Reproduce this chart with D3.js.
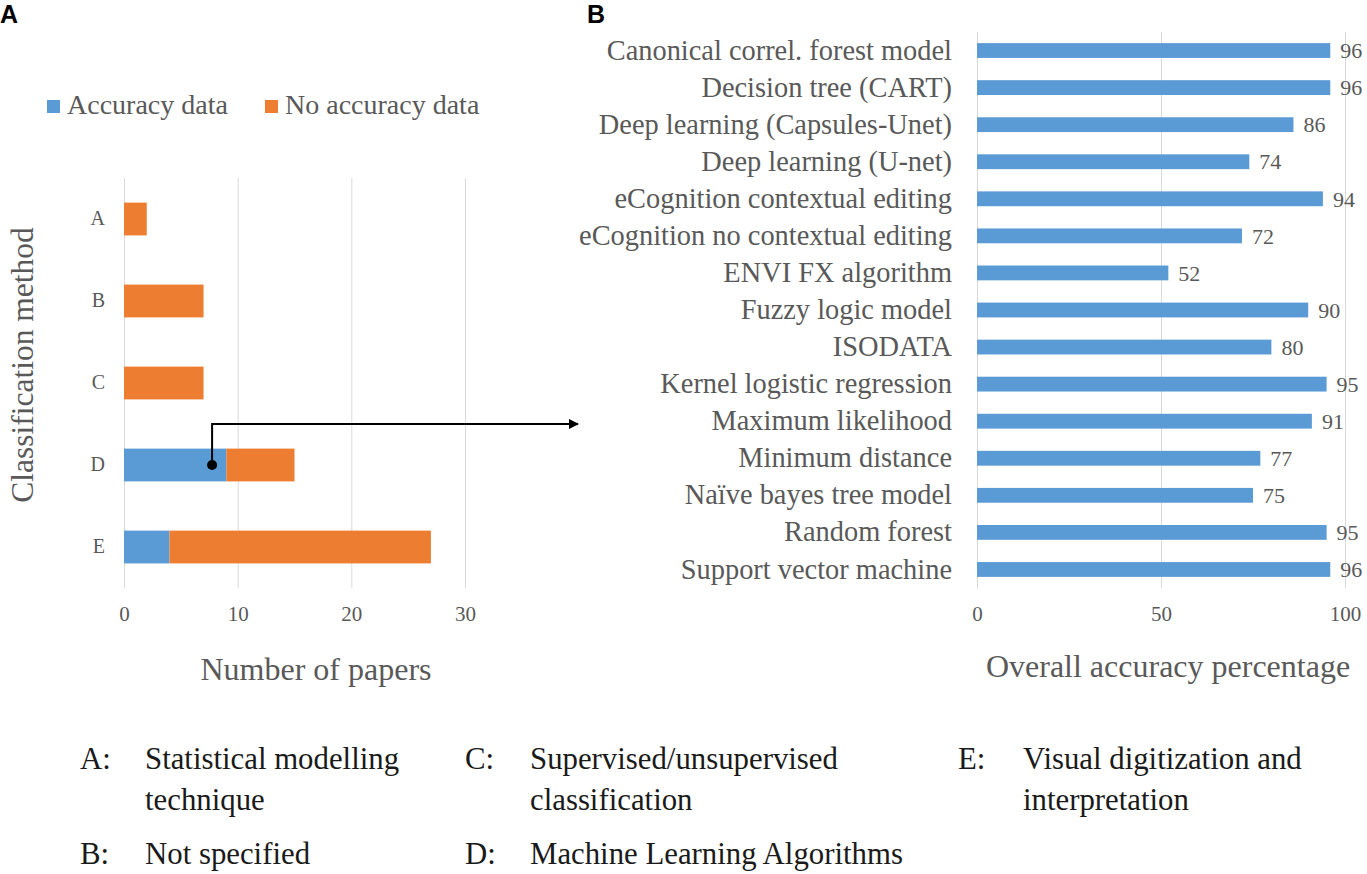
<html lang="en">
  <head>
    <meta charset="UTF-8" />
    <title>Classification methods and accuracy</title>
    <script src="https://d3js.org/d3.v7.min.js"></script>
  </head>
  <style>
    body {
      margin: 0px;
      overflow: hidden;
      background: #fff;
    }
    text {
      font-family: "Liberation Serif", "DejaVu Serif", serif;
      fill: #595959;
    }
    .panel-letter {
      font-family: "Liberation Sans", Arial, sans-serif;
      font-weight: bold;
      fill: #000;
    }
    .key text {
      fill: #1a1a1a;
    }
  </style>
  <body>
    <svg width="1367" height="874"></svg>
  </body>
  <footer>
    <script>
      // panel A data
      var methodCats = ["A", "B", "C", "D", "E"];
      var accuracyData = [0, 0, 0, 9, 4];
      var noAccuracyData = [2, 7, 7, 6, 23];
      var seriesNames = ["Accuracy data", "No accuracy data"];
      var seriesColors = ["#5B9BD5", "#ED7D31"];
      var ticksA = [0, 10, 20, 30];

      // panel B data
      var algorithms = [
        "Canonical correl. forest model",
        "Decision tree (CART)",
        "Deep learning (Capsules-Unet)",
        "Deep learning (U-net)",
        "eCognition contextual editing",
        "eCognition no contextual editing",
        "ENVI FX algorithm",
        "Fuzzy logic model",
        "ISODATA",
        "Kernel logistic regression",
        "Maximum likelihood",
        "Minimum distance",
        "Naïve bayes tree model",
        "Random forest",
        "Support vector machine"
      ];
      var overallAccuracy = [96, 96, 86, 74, 94, 72, 52, 90, 80, 95, 91, 77, 75, 95, 96];
      var ticksB = [0, 50, 100];

      // key under the charts
      var keyLetters = ["A:", "B:", "C:", "D:", "E:"];
      var keyTexts = [
        ["Statistical modelling", "technique"],
        ["Not specified"],
        ["Supervised/unsupervised", "classification"],
        ["Machine Learning Algorithms"],
        ["Visual digitization and", "interpretation"]
      ];

      var serif = '"Liberation Serif", "DejaVu Serif", serif';
      var svg = d3.select("svg");

      svg.append("text").attr("class", "panel-letter").attr("x", 0).attr("y", 23)
        .style("font-size", "25px").text("A");
      svg.append("text").attr("class", "panel-letter").attr("x", 587).attr("y", 23)
        .style("font-size", "25px").text("B");

      // ---------- panel A ----------
      var xA = d3.scaleLinear().domain([0, 30]).range([124, 465]);
      var yA = d3.scaleBand().domain(methodCats).range([178, 588])
        .paddingInner(0.6).paddingOuter(0.3);

      var gA = svg.append("g");

      gA.append("g")
        .attr("transform", "translate(0,588)")
        .call(d3.axisBottom(xA).tickValues(ticksA).tickSize(-410).tickPadding(18))
        .call(function (g) {
          g.select(".domain").remove();
          g.selectAll(".tick line").attr("stroke", "#D9D9D9");
          g.selectAll(".tick text").style("font-size", "21px").attr("fill", "#595959")
            .style("font-family", serif);
        });

      gA.append("g")
        .attr("transform", "translate(124,0)")
        .call(d3.axisLeft(yA).tickSize(0).tickPadding(19))
        .call(function (g) {
          g.select(".domain").attr("stroke", "#D9D9D9");
          g.selectAll(".tick text").style("font-size", "20px").attr("fill", "#595959")
            .style("font-family", serif);
        });

      var stacked = d3.stack().keys([0, 1])(
        methodCats.map(function (c, i) {
          return [accuracyData[i], noAccuracyData[i]];
        })
      );

      gA.selectAll("g.series")
        .data(stacked)
        .enter()
        .append("g")
        .attr("class", "series")
        .attr("fill", function (d, i) { return seriesColors[i]; })
        .selectAll("rect")
        .data(function (d) { return d; })
        .enter()
        .append("rect")
        .attr("x", function (d) { return xA(d[0]); })
        .attr("y", function (d, i) { return yA(methodCats[i]); })
        .attr("width", function (d) { return xA(d[1]) - xA(d[0]); })
        .attr("height", yA.bandwidth());

      // legend
      var legendX = [47, 265];
      seriesNames.forEach(function (name, i) {
        gA.append("rect").attr("x", legendX[i]).attr("y", 100)
          .attr("width", 13).attr("height", 13).attr("fill", seriesColors[i]);
        gA.append("text").attr("x", legendX[i] + 20).attr("y", 114)
          .style("font-size", "28px").text(name);
      });

      gA.append("text")
        .attr("transform", "translate(33,365) rotate(-90)")
        .attr("text-anchor", "middle")
        .style("font-size", "31.5px")
        .text("Classification method");

      gA.append("text")
        .attr("x", 316).attr("y", 680)
        .attr("text-anchor", "middle")
        .style("font-size", "32px")
        .text("Number of papers");

      // arrow from the ML bar to panel B
      var dotX = xA(7.75);
      var dotY = yA("D") + yA.bandwidth() / 2;
      svg.append("defs").append("marker")
        .attr("id", "head").attr("viewBox", "0 0 10 10")
        .attr("refX", 9).attr("refY", 5)
        .attr("markerWidth", 6).attr("markerHeight", 5)
        .attr("orient", "auto")
        .append("path").attr("d", "M0,0L10,5L0,10Z").attr("fill", "#000");
      gA.append("path")
        .attr("d", "M" + dotX + "," + dotY + "V424H578")
        .attr("fill", "none").attr("stroke", "#000").attr("stroke-width", 2)
        .attr("marker-end", "url(#head)");
      gA.append("circle").attr("cx", dotX).attr("cy", dotY).attr("r", 5).attr("fill", "#000");

      // ---------- panel B ----------
      var xB = d3.scaleLinear().domain([0, 100]).range([977, 1345]);
      var yB = d3.scaleBand().domain(algorithms).range([32, 588])
        .paddingInner(0.6).paddingOuter(0.3);

      var gB = svg.append("g");

      gB.append("g")
        .attr("transform", "translate(0,588)")
        .call(d3.axisBottom(xB).tickValues(ticksB).tickSize(-556).tickPadding(18))
        .call(function (g) {
          g.select(".domain").remove();
          g.selectAll(".tick line").attr("stroke", "#D9D9D9");
          g.selectAll(".tick text").style("font-size", "21px").attr("fill", "#595959")
            .style("font-family", serif);
        });

      gB.append("g")
        .attr("transform", "translate(977,0)")
        .call(d3.axisLeft(yB).tickSize(0).tickPadding(25))
        .call(function (g) {
          g.select(".domain").attr("stroke", "#D9D9D9");
          g.selectAll(".tick text").style("font-size", "28.4px").attr("fill", "#595959")
            .style("font-family", serif);
        });

      gB.selectAll("rect.bar")
        .data(overallAccuracy)
        .enter()
        .append("rect")
        .attr("class", "bar")
        .attr("x", xB(0))
        .attr("y", function (d, i) { return yB(algorithms[i]); })
        .attr("width", function (d) { return xB(d) - xB(0); })
        .attr("height", yB.bandwidth())
        .attr("fill", "#5B9BD5");

      gB.selectAll("text.val")
        .data(overallAccuracy)
        .enter()
        .append("text")
        .attr("class", "val")
        .attr("x", function (d) { return xB(d) + 10; })
        .attr("y", function (d, i) { return yB(algorithms[i]) + yB.bandwidth() / 2; })
        .attr("dy", "0.35em")
        .style("font-size", "22px")
        .text(function (d) { return d; });

      gB.append("text")
        .attr("x", 1168).attr("y", 677)
        .attr("text-anchor", "middle")
        .style("font-size", "32px")
        .text("Overall accuracy percentage");

      // ---------- key ----------
      var keyCols = [80, 80, 465, 465, 958];
      var keyRows = [769, 864, 769, 864, 769];
      var key = svg.append("g").attr("class", "key");
      keyLetters.forEach(function (l, i) {
        key.append("text").attr("x", keyCols[i]).attr("y", keyRows[i])
          .style("font-size", "30.8px").text(l);
        keyTexts[i].forEach(function (t, j) {
          key.append("text").attr("x", keyCols[i] + 65).attr("y", keyRows[i] + j * 41)
            .style("font-size", "30.8px").text(t);
        });
      });
    </script>
  </footer>
</html>
